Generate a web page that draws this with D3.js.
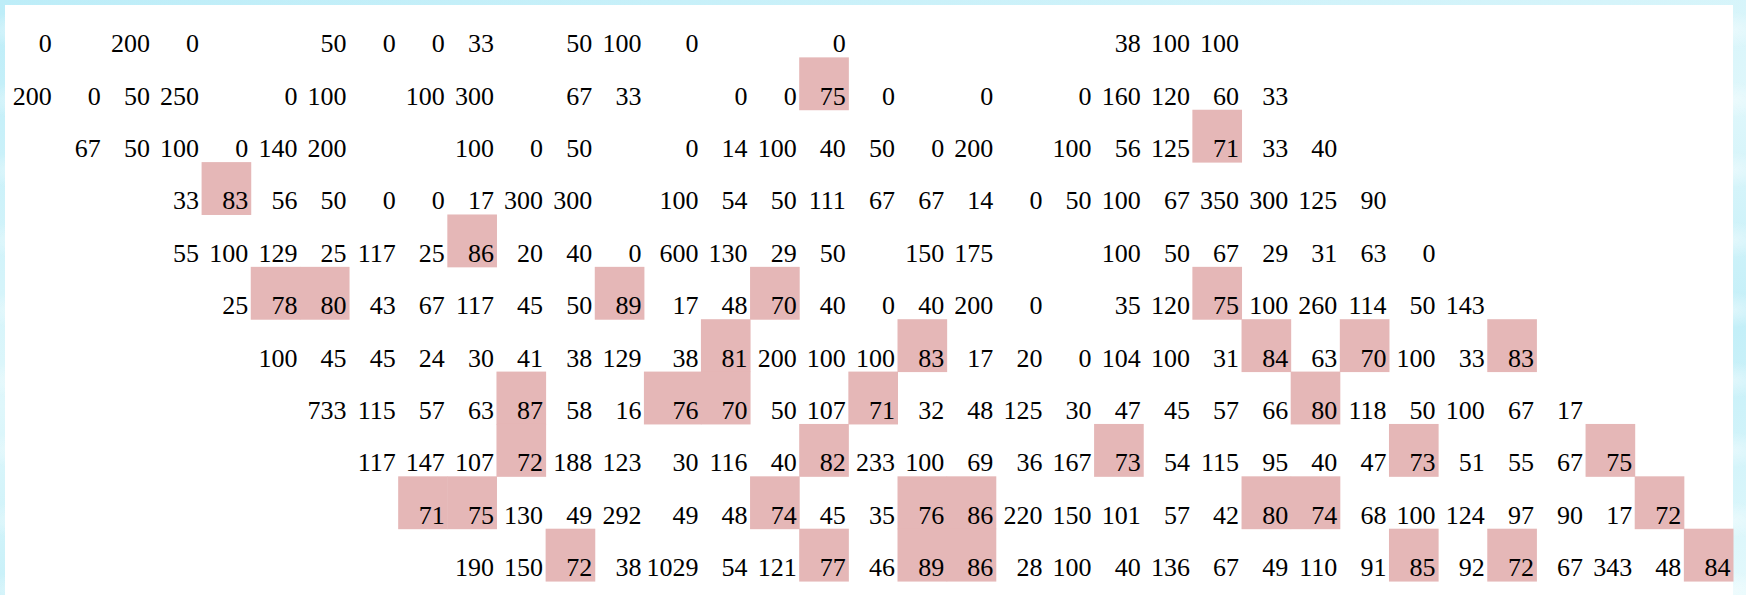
<!DOCTYPE html>
<html>
  <head>
    <meta charset="utf-8">
    <title>Value grid</title>
    <style>
      html, body { margin: 0; padding: 0; }
      body {
        width: 1746px;
        height: 595px;
        overflow: hidden;
        background-color: #c9f0f8;
        background-image:
          radial-gradient(ellipse 40px 18px at 20px 30px, rgba(255,255,255,0.45), rgba(255,255,255,0) 100%),
          linear-gradient(170deg, #bdedf8, #dff7fb 45%, #c3eff8 70%, #e4f9fc);
        background-size: 90px 70px, 100% 100%;
      }
      #chart { position: absolute; left: 0; top: 0; }
      #chart text {
        font-family: "Liberation Serif", "Times New Roman", Times, serif;
        font-size: 26px;
        fill: #000;
      }
    </style>
  </head>

  <body>
    <div id="chart"></div>

    <script src="https://d3js.org/d3.v7.min.js"></script>
    <script>
      // blank cell
      var _ = null;

      // first column of each row (the grid is a staircase)
      var rowStart = [0, 0, 1, 3, 3, 4, 5, 6, 7, 8, 9];

      // values per row, read left to right starting at rowStart
      var row0  = [0, _, 200, 0, _, _, 50, 0, 0, 33, _, 50, 100, 0, _, _, 0, _, _, _, _, _, 38, 100, 100];
      var row1  = [200, 0, 50, 250, _, 0, 100, _, 100, 300, _, 67, 33, _, 0, 0, 75, 0, _, 0, _, 0, 160, 120, 60, 33];
      var row2  = [67, 50, 100, 0, 140, 200, _, _, 100, 0, 50, _, 0, 14, 100, 40, 50, 0, 200, _, 100, 56, 125, 71, 33, 40];
      var row3  = [33, 83, 56, 50, 0, 0, 17, 300, 300, _, 100, 54, 50, 111, 67, 67, 14, 0, 50, 100, 67, 350, 300, 125, 90];
      var row4  = [55, 100, 129, 25, 117, 25, 86, 20, 40, 0, 600, 130, 29, 50, _, 150, 175, _, _, 100, 50, 67, 29, 31, 63, 0];
      var row5  = [25, 78, 80, 43, 67, 117, 45, 50, 89, 17, 48, 70, 40, 0, 40, 200, 0, _, 35, 120, 75, 100, 260, 114, 50, 143];
      var row6  = [100, 45, 45, 24, 30, 41, 38, 129, 38, 81, 200, 100, 100, 83, 17, 20, 0, 104, 100, 31, 84, 63, 70, 100, 33, 83];
      var row7  = [733, 115, 57, 63, 87, 58, 16, 76, 70, 50, 107, 71, 32, 48, 125, 30, 47, 45, 57, 66, 80, 118, 50, 100, 67, 17];
      var row8  = [117, 147, 107, 72, 188, 123, 30, 116, 40, 82, 233, 100, 69, 36, 167, 73, 54, 115, 95, 40, 47, 73, 51, 55, 67, 75];
      var row9  = [71, 75, 130, 49, 292, 49, 48, 74, 45, 35, 76, 86, 220, 150, 101, 57, 42, 80, 74, 68, 100, 124, 97, 90, 17, 72];
      var row10 = [190, 150, 72, 38, 1029, 54, 121, 77, 46, 89, 86, 28, 100, 40, 136, 67, 49, 110, 91, 85, 92, 72, 67, 343, 48, 84];

      var rows = [row0, row1, row2, row3, row4, row5, row6, row7, row8, row9, row10];
      var nCols = 35;

      // cells with a value in [70, 90) get the pink background
      var highlightRange = [70, 90];

      var W = 1746, H = 595;
      var panel = {left: 5, top: 5, right: 1733};
      var rowH = 52.37;

      // flatten into cells
      var cells = [];
      rows.forEach(function(r, i) {
        r.forEach(function(v, k) {
          if (v !== null) cells.push({row: i, col: rowStart[i] + k, value: v});
        });
      });

      var svg = d3.select("#chart")
        .append("svg")
          .attr("width", W)
          .attr("height", H);

      svg.append("rect")
        .attr("x", panel.left)
        .attr("y", panel.top)
        .attr("width", panel.right - panel.left)
        .attr("height", H - panel.top)
        .attr("fill", "#ffffff");

      // measure the widest label of every column, like a table would
      var probe = svg.append("text");
      var need = d3.range(nCols).map(function() { return 0; });
      cells.forEach(function(c) {
        probe.text(c.value);
        need[c.col] = Math.max(need[c.col], probe.node().getComputedTextLength() + 5);
      });
      probe.remove();

      // columns share the panel width, wide ones keep what they need
      var total = panel.right - panel.left;
      var base = total / nCols;
      for (var it = 0; it < 5; it++) {
        var wide = need.filter(function(n) { return n > base; });
        base = (total - d3.sum(wide)) / (nCols - wide.length);
      }
      var widths = need.map(function(n) { return Math.max(n, base); });
      var lefts = [];
      widths.reduce(function(acc, w, i) { lefts[i] = acc; return acc + w; }, panel.left);

      var x = d3.scaleOrdinal()
        .domain(d3.range(nCols))
        .range(lefts);
      var w = d3.scaleOrdinal()
        .domain(d3.range(nCols))
        .range(widths);
      var y = d3.scaleBand()
        .domain(d3.range(rows.length))
        .range([panel.top, panel.top + rowH * rows.length])
        .padding(0);

      var g = svg.append("g");

      g.selectAll("rect.hl")
        .data(cells.filter(function(c) { return c.value >= highlightRange[0] && c.value < highlightRange[1]; }))
        .enter().append("rect")
          .attr("class", "hl")
          .attr("x", function(d) { return x(d.col); })
          .attr("y", function(d) { return y(d.row); })
          .attr("width", function(d) { return w(d.col) + 0.5; })
          .attr("height", y.bandwidth() + 0.5)
          .attr("fill", "#e5b7b7");

      g.selectAll("text.v")
        .data(cells)
        .enter().append("text")
          .attr("class", "v")
          .attr("x", function(d) { return x(d.col) + w(d.col) - 2.5; })
          .attr("y", function(d) { return y(d.row) + y.bandwidth() - 5; })
          .attr("text-anchor", "end")
          .text(function(d) { return d.value; });
    </script>
  </body>
</html>
